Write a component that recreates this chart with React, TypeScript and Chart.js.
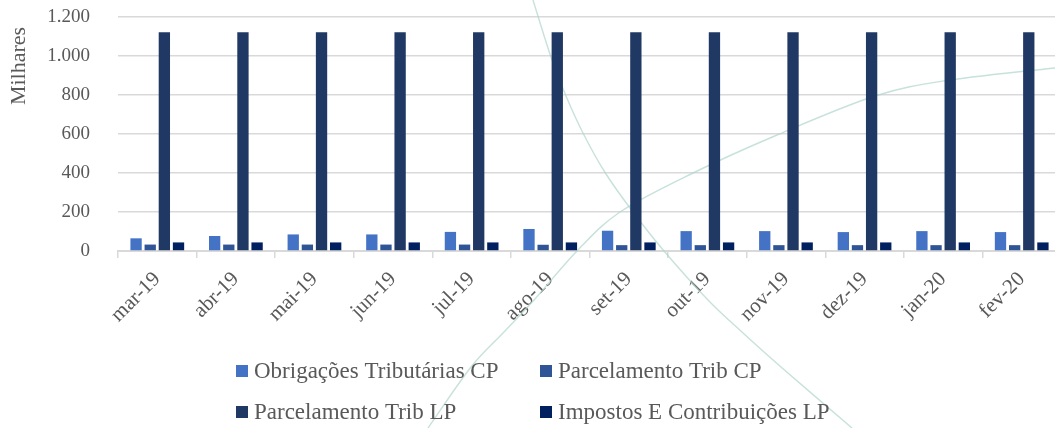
import { useEffect, useRef } from "react";
import { Chart, registerables } from "chart.js";

Chart.register(...registerables);

const categories = ["mar-19", "abr-19", "mai-19", "jun-19", "jul-19", "ago-19", "set-19", "out-19", "nov-19", "dez-19", "jan-20", "fev-20"];
const obrigacoesTributariasCP = [65, 77, 85, 85, 98, 113, 104, 102, 102, 97, 102, 97];
const parcelamentoTribCP = [33, 33, 33, 33, 33, 32, 30, 30, 30, 30, 30, 30];
const parcelamentoTribLP = [1122, 1122, 1122, 1122, 1122, 1122, 1122, 1122, 1122, 1122, 1122, 1122];
const impostosContribuicoesLP = [44, 44, 44, 44, 44, 44, 44, 44, 44, 44, 44, 44];
const yTicks = [0, 200, 400, 600, 800, 1000, 1200];
const seriesNames = ["Obrigações Tributárias CP", "Parcelamento Trib CP", "Parcelamento Trib LP", "Impostos E Contribuições LP"];
const seriesColors = ["#4472C4", "#2F5597", "#203864", "#002060"];
const yTitle = "Milhares";

const FONT = "'Liberation Serif', 'Times New Roman', serif";
const TEXT = "#595959";
const GRID = "#D9D9D9";

// decorative background curves (page pixel coordinates)
const decorA = [[533, 0], [551, 57], [566, 96], [584, 135], [606, 174], [633, 212], [664, 251], [708, 300], [743, 333], [781, 367], [852, 428]];
const decorB = [[428, 428], [471, 367], [503, 333], [534, 300], [577, 251], [620, 212], [691, 174], [777, 135], [875, 96], [950, 80], [1055, 68]];

function fmt(v: number) {
  return String(v).replace(/\B(?=(\d{3})+(?!\d))/g, ".");
}

function smoothPath(ctx: CanvasRenderingContext2D, pts: number[][]) {
  ctx.moveTo(pts[0][0], pts[0][1]);
  for (let i = 0; i < pts.length - 1; i++) {
    const p0 = pts[Math.max(0, i - 1)];
    const p1 = pts[i];
    const p2 = pts[i + 1];
    const p3 = pts[Math.min(pts.length - 1, i + 2)];
    const c1x = p1[0] + (p2[0] - p0[0]) / 6;
    const c1y = p1[1] + (p2[1] - p0[1]) / 6;
    const c2x = p2[0] - (p3[0] - p1[0]) / 6;
    const c2y = p2[1] - (p3[1] - p1[1]) / 6;
    ctx.bezierCurveTo(c1x, c1y, c2x, c2y, p2[0], p2[1]);
  }
}

const decorPlugin = {
  id: "decor",
  beforeDatasetsDraw(chart: any) {
    const ctx = chart.ctx as CanvasRenderingContext2D;
    ctx.save();
    ctx.strokeStyle = "rgba(175, 212, 204, 0.7)";
    ctx.lineWidth = 1.4;
    ctx.beginPath();
    smoothPath(ctx, decorA);
    ctx.stroke();
    ctx.beginPath();
    smoothPath(ctx, decorB);
    ctx.stroke();
    ctx.restore();
  },
};

const textPlugin = {
  id: "gridLegend",
  afterDraw(chart: any) {
    const ctx = chart.ctx as CanvasRenderingContext2D;
    ctx.save();
    // y-axis title, placed near the top like the original
    ctx.font = `22px ${FONT}`;
    ctx.fillStyle = TEXT;
    ctx.textAlign = "center";
    ctx.textBaseline = "middle";
    ctx.translate(19, 66);
    ctx.rotate(-Math.PI / 2);
    ctx.fillText(yTitle, 0, 0);
    ctx.restore();

    ctx.save();
    ctx.font = `23px ${FONT}`;
    ctx.textBaseline = "middle";
    ctx.textAlign = "left";
    chart.data.datasets.forEach((ds: any, i: number) => {
      const col = i % 2;
      const row = Math.floor(i / 2);
      const bx = col === 0 ? 236 : 540;
      const by = row === 0 ? 371 : 412;
      ctx.fillStyle = ds.backgroundColor;
      ctx.fillRect(bx, by - 6, 12, 12);
      ctx.fillStyle = TEXT;
      ctx.fillText(ds.label, bx + 18, by + 1);
    });
    ctx.restore();
  },
};

export default function App() {
  const ref = useRef<HTMLCanvasElement>(null);

  useEffect(() => {
    const canvas = ref.current;
    if (!canvas) return;
    const seriesData = [obrigacoesTributariasCP, parcelamentoTribCP, parcelamentoTribLP, impostosContribuicoesLP];
    const chart = new Chart(canvas, {
      type: "bar",
      data: {
        labels: categories,
        datasets: seriesNames.map((name, i) => ({
          label: name,
          data: seriesData[i],
          backgroundColor: seriesColors[i],
          borderWidth: 0,
          categoryPercentage: 0.72,
          barPercentage: 0.8,
        })),
      },
      options: {
        responsive: false,
        animation: false,
        layout: { padding: { top: 17, left: 0, right: 0, bottom: 0 } },
        plugins: {
          legend: { display: false },
          tooltip: { enabled: false },
        },
        scales: {
          x: {
            grid: {
              display: true,
              drawOnChartArea: false,
              drawTicks: true,
              tickLength: 7,
              color: GRID,
              lineWidth: 1.5,
              offset: true,
            },
            border: { display: true, color: GRID, width: 2 },
            ticks: {
              autoSkip: false,
              minRotation: 45,
              maxRotation: 45,
              padding: 9,
              color: TEXT,
              font: { family: FONT, size: 21 },
            },
            afterFit: (s: any) => {
              s.height = 177;
              s.paddingTop = 0;
              s.paddingBottom = 0;
            },
          },
          y: {
            min: 0,
            max: 1200,
            afterBuildTicks: (s: any) => {
              s.ticks = yTicks.map((v) => ({ value: v }));
            },
            ticks: {
              padding: 28,
              color: TEXT,
              font: { family: FONT, size: 19 },
              callback: (v: any) => fmt(Number(v)),
            },
            grid: { color: GRID, lineWidth: 1.5, drawTicks: false },
            border: { display: false },
            title: { display: false },
            afterFit: (s: any) => {
              s.width = 118;
              s.paddingTop = 0;
              s.paddingBottom = 0;
            },
          },
        },
      },
      plugins: [decorPlugin, textPlugin],
    } as any);
    return () => chart.destroy();
  }, []);

  return (
    <div
      style={{
        position: "fixed",
        left: 0,
        top: 0,
        width: 1055,
        height: 428,
        overflow: "hidden",
        background: "#ffffff",
      }}
    >
      <canvas ref={ref} width={1061} height={428} style={{ display: "block", width: 1061, height: 428 }} />
    </div>
  );
}
